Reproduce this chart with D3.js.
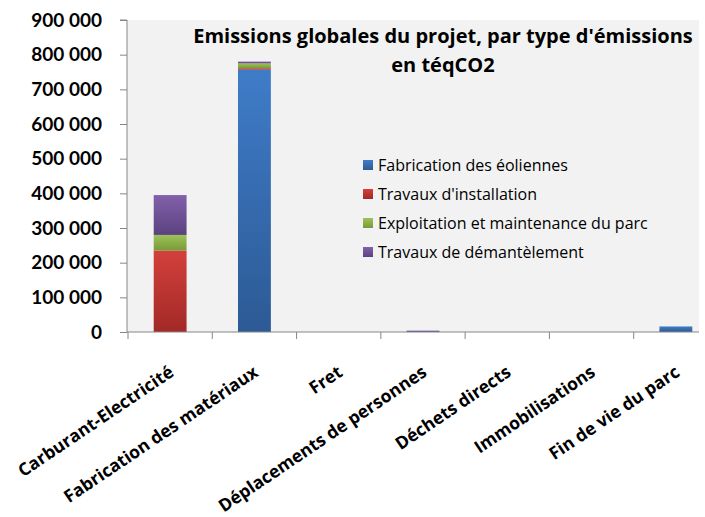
<!DOCTYPE html>
<html>
<head>
<meta charset="utf-8">
<script src="https://cdn.jsdelivr.net/npm/d3@7"></script>
<style>
  html, body { margin: 0; padding: 0; background: #ffffff; }
  svg { display: block; }
</style>
</head>
<body>
<svg id="chart" width="705" height="517"></svg>
<script>
// Categories of emission sources (x axis)
const categories = [
  "Carburant-Electricité",
  "Fabrication des matériaux",
  "Fret",
  "Déplacements de personnes",
  "Déchets directs",
  "Immobilisations",
  "Fin de vie du parc"
];

// Series names, in stacking order (bottom to top)
const seriesNames = [
  "Fabrication des éoliennes",
  "Travaux d'installation",
  "Exploitation et maintenance du parc",
  "Travaux de démantèlement"
];

// Values in téqCO2 per category, one array per series
const fabricationEoliennes = [0, 757000, 0, 0, 0, 0, 16000];
const travauxInstallation  = [235000, 4000, 0, 0, 0, 0, 0];
const exploitationParc     = [45000, 14000, 0, 0, 0, 0, 0];
const travauxDemantelement = [115000, 5000, 0, 4000, 0, 0, 0];

// Y axis tick values
const yTicks = [0, 100000, 200000, 300000, 400000, 500000, 600000, 700000, 800000, 900000];

const titleLines = ["Emissions globales du projet, par type d'émissions", "en téqCO2"];

const seriesValues = [fabricationEoliennes, travauxInstallation, exploitationParc, travauxDemantelement];
const colors = [
  ["#3f7cc8", "#2c5a95"],
  ["#d3403c", "#a22926"],
  ["#9ec25a", "#789a37"],
  ["#8161ab", "#5c4280"]
];

const rows = categories.map((c, i) => {
  const r = { category: c };
  seriesNames.forEach((s, k) => { r[s] = seriesValues[k][i]; });
  return r;
});
const stacked = d3.stack().keys(seriesNames)(rows);

const svg = d3.select("#chart");
const plot = { left: 127, right: 699, top: 20, bottom: 332 };
const axisColor = "#868686";
const textFont = "'Open Sans', 'Noto Sans', sans-serif";

const x = d3.scaleBand()
  .domain(categories)
  .range([128, 718])
  .paddingInner(0.61)
  .paddingOuter(0.305);

const y = d3.scaleLinear()
  .domain([0, 900000])
  .range([plot.bottom, plot.top]);

// Gradients for bar segments
const defs = svg.append("defs");
colors.forEach((c, k) => {
  const g = defs.append("linearGradient")
    .attr("id", "grad" + k)
    .attr("x1", 0).attr("y1", 0).attr("x2", 0).attr("y2", 1);
  g.append("stop").attr("offset", "0%").attr("stop-color", c[0]);
  g.append("stop").attr("offset", "100%").attr("stop-color", c[1]);
});
defs.append("clipPath").attr("id", "plotClip")
  .append("rect")
  .attr("x", plot.left).attr("y", 0)
  .attr("width", plot.right - plot.left).attr("height", 517);

// Plot area background
svg.append("rect")
  .attr("x", plot.left).attr("y", plot.top)
  .attr("width", plot.right - plot.left)
  .attr("height", plot.bottom - plot.top)
  .attr("fill", "#f2f2f2");

// Stacked bars
const barLayer = svg.append("g").attr("clip-path", "url(#plotClip)");
stacked.forEach((layer, k) => {
  barLayer.append("g")
    .selectAll("rect")
    .data(layer.filter(d => d[1] - d[0] > 0))
    .join("rect")
    .attr("x", d => x(d.data.category))
    .attr("width", x.bandwidth())
    .attr("y", d => y(d[1]))
    .attr("height", d => y(d[0]) - y(d[1]))
    .attr("fill", "url(#grad" + k + ")");
});

// Y axis
const yAxis = d3.axisLeft(y)
  .tickValues(yTicks)
  .tickSize(7)
  .tickPadding(18)
  .tickFormat(d => d3.format(",")(d).replace(/,/g, " "));
const yg = svg.append("g")
  .attr("transform", `translate(${plot.left},0)`)
  .call(yAxis);
yg.select(".domain").attr("stroke", axisColor).attr("d", `M-7,${plot.top}H0V${plot.bottom}`);
yg.selectAll(".tick line").attr("stroke", axisColor);
yg.selectAll(".tick text")
  .attr("fill", "#000")
  .style("font-family", "Lato, 'Open Sans', sans-serif")
  .style("font-weight", "bold")
  .style("font-size", "19px");

// X axis line and category boundary ticks
const step = x.step();
const boundaries = d3.range(categories.length + 1).map(i => x.range()[0] + i * step)
  .filter(b => b <= plot.right);
svg.append("line")
  .attr("x1", plot.left).attr("x2", plot.right)
  .attr("y1", plot.bottom).attr("y2", plot.bottom)
  .attr("stroke", axisColor);
svg.append("g").selectAll("line")
  .data(boundaries)
  .join("line")
  .attr("x1", d => d).attr("x2", d => d)
  .attr("y1", plot.bottom).attr("y2", plot.bottom + 7)
  .attr("stroke", axisColor);

// Rotated category labels
svg.append("g").selectAll("text")
  .data(categories)
  .join("text")
  .attr("transform", d => `translate(${x(d) + x.bandwidth() / 2 + 5},${plot.bottom + 43}) rotate(-34)`)
  .attr("text-anchor", "end")
  .style("font-family", textFont)
  .style("font-weight", "bold")
  .style("font-size", "17.5px")
  .attr("fill", "#000")
  .text(d => d);

// Title
svg.append("g").selectAll("text")
  .data(titleLines)
  .join("text")
  .attr("x", 443)
  .attr("y", (d, i) => 43 + i * 29)
  .attr("text-anchor", "middle")
  .style("font-family", textFont)
  .style("font-weight", "bold")
  .style("font-size", "20px")
  .attr("fill", "#000")
  .text(d => d);

// Legend
const legend = svg.append("g").attr("transform", "translate(363,165)");
const items = legend.selectAll("g")
  .data(seriesNames)
  .join("g")
  .attr("transform", (d, i) => `translate(0,${i * 29})`);
items.append("rect")
  .attr("x", 0).attr("y", -5)
  .attr("width", 10).attr("height", 10)
  .attr("fill", (d, i) => `url(#grad${i})`);
items.append("text")
  .attr("x", 15).attr("y", 0)
  .attr("dy", "0.35em")
  .style("font-family", textFont)
  .style("font-size", "16px")
  .attr("fill", "#000")
  .text(d => d);
</script>
</body>
</html>
